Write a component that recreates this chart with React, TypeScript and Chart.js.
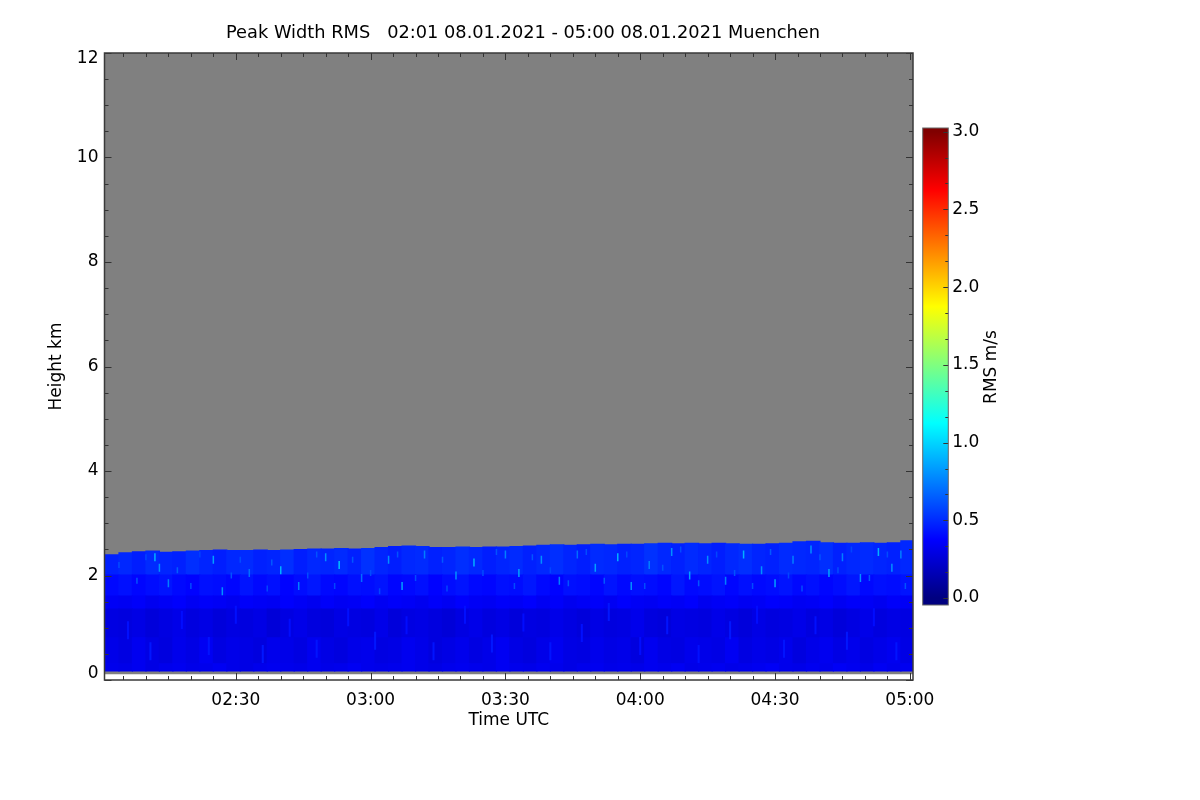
import { useEffect, useRef } from "react"
import { Chart, registerables } from "chart.js"

Chart.register(...registerables)

const FONT = "'DejaVu Sans', 'Liberation Sans', sans-serif"
const TITLE = "Peak Width RMS   02:01 08.01.2021 - 05:00 08.01.2021 Muenchen"

// column centres, minutes after 02:00 (3 min columns)
const columnMinutes = [
  2.5, 5.5, 8.5, 11.5, 14.5, 17.5, 20.5, 23.5, 26.5, 29.5,
  32.5, 35.5, 38.5, 41.5, 44.5, 47.5, 50.5, 53.5, 56.5, 59.5,
  62.5, 65.5, 68.5, 71.5, 74.5, 77.5, 80.5, 83.5, 86.5, 89.5,
  92.5, 95.5, 98.5, 101.5, 104.5, 107.5, 110.5, 113.5, 116.5, 119.5,
  122.5, 125.5, 128.5, 131.5, 134.5, 137.5, 140.5, 143.5, 146.5, 149.5,
  152.5, 155.5, 158.5, 161.5, 164.5, 167.5, 170.5, 173.5, 176.5, 179.5
]

// top of the measured layer, km
const columnTops = [
  2.4, 2.44, 2.46, 2.47, 2.45, 2.46, 2.47, 2.48, 2.49, 2.48,
  2.48, 2.49, 2.48, 2.49, 2.5, 2.51, 2.51, 2.52, 2.51, 2.52,
  2.54, 2.56, 2.57, 2.56, 2.54, 2.54, 2.55, 2.54, 2.55, 2.55,
  2.56, 2.57, 2.58, 2.59, 2.58, 2.59, 2.6, 2.59, 2.6, 2.6,
  2.61, 2.62, 2.61, 2.62, 2.61, 2.62, 2.61, 2.6, 2.6, 2.61,
  2.62, 2.65, 2.66, 2.63, 2.62, 2.62, 2.63, 2.62, 2.63, 2.67
]

// lower edge of each height layer, km (no data below the first edge)
const noDataFloor = 0.11
const layerEdges = [0.17, 0.3, 0.8, 1.35, 1.6, 2.0]

// RMS m/s per layer and column
const rmsLayer0 = [
  0.32, 0.31, 0.33, 0.3, 0.32, 0.33, 0.31, 0.32, 0.34, 0.31,
  0.3, 0.32, 0.33, 0.32, 0.31, 0.33, 0.31, 0.32, 0.34, 0.32,
  0.31, 0.32, 0.33, 0.31, 0.3, 0.32, 0.33, 0.32, 0.31, 0.34,
  0.32, 0.31, 0.33, 0.32, 0.3, 0.32, 0.33, 0.31, 0.32, 0.31,
  0.33, 0.32, 0.34, 0.31, 0.32, 0.33, 0.31, 0.32, 0.33, 0.35,
  0.32, 0.31, 0.33, 0.32, 0.35, 0.33, 0.31, 0.34, 0.32, 0.33
]
const rmsLayer1 = [
  0.31, 0.29, 0.33, 0.3, 0.28, 0.32, 0.3, 0.34, 0.29, 0.31,
  0.3, 0.28, 0.32, 0.31, 0.29, 0.33, 0.3, 0.28, 0.31, 0.32,
  0.29, 0.3, 0.33, 0.31, 0.28, 0.3, 0.32, 0.29, 0.31, 0.34,
  0.3, 0.28, 0.31, 0.33, 0.3, 0.29, 0.32, 0.3, 0.31, 0.28,
  0.33, 0.3, 0.29, 0.32, 0.31, 0.3, 0.34, 0.29, 0.31, 0.3,
  0.32, 0.28, 0.31, 0.33, 0.3, 0.32, 0.29, 0.31, 0.33, 0.3
]
const rmsLayer2 = [
  0.29, 0.28, 0.3, 0.27, 0.29, 0.31, 0.28, 0.3, 0.27, 0.29,
  0.28, 0.3, 0.26, 0.29, 0.31, 0.28, 0.27, 0.3, 0.29, 0.28,
  0.31, 0.27, 0.29, 0.3, 0.28, 0.26, 0.29, 0.31, 0.28, 0.3,
  0.27, 0.29, 0.28, 0.31, 0.29, 0.27, 0.3, 0.28, 0.29, 0.32,
  0.28, 0.27, 0.3, 0.29, 0.28, 0.31, 0.29, 0.27, 0.3, 0.28,
  0.29, 0.31, 0.28, 0.3, 0.27, 0.29, 0.31, 0.28, 0.3, 0.29
]
const rmsLayer3 = [
  0.35, 0.34, 0.36, 0.33, 0.35, 0.37, 0.34, 0.36, 0.35, 0.33,
  0.36, 0.35, 0.34, 0.37, 0.35, 0.33, 0.36, 0.34, 0.35, 0.37,
  0.34, 0.36, 0.35, 0.33, 0.36, 0.34, 0.37, 0.35, 0.34, 0.36,
  0.35, 0.37, 0.34, 0.36, 0.33, 0.35, 0.36, 0.34, 0.37, 0.35,
  0.34, 0.36, 0.35, 0.37, 0.33, 0.35, 0.36, 0.34, 0.35, 0.37,
  0.36, 0.34, 0.35, 0.37, 0.34, 0.36, 0.35, 0.33, 0.36, 0.35
]
const rmsLayer4 = [
  0.4, 0.42, 0.39, 0.41, 0.43, 0.4, 0.38, 0.42, 0.41, 0.39,
  0.43, 0.4, 0.42, 0.38, 0.41, 0.44, 0.4, 0.39, 0.42, 0.41,
  0.43, 0.39, 0.4, 0.42, 0.38, 0.41, 0.43, 0.4, 0.39, 0.42,
  0.41, 0.44, 0.4, 0.38, 0.42, 0.41, 0.39, 0.43, 0.4, 0.42,
  0.41, 0.39, 0.44, 0.4, 0.41, 0.43, 0.39, 0.42, 0.4, 0.41,
  0.43, 0.4, 0.42, 0.39, 0.41, 0.44, 0.4, 0.42, 0.41, 0.43
]
const rmsLayer5 = [
  0.47, 0.49, 0.46, 0.5, 0.48, 0.47, 0.51, 0.48, 0.46, 0.49,
  0.5, 0.47, 0.48, 0.51, 0.46, 0.49, 0.48, 0.5, 0.47, 0.52,
  0.48, 0.46, 0.49, 0.5, 0.47, 0.48, 0.51, 0.49, 0.46, 0.48,
  0.5, 0.47, 0.49, 0.51, 0.48, 0.46, 0.5, 0.49, 0.47, 0.48,
  0.52, 0.49, 0.47, 0.5, 0.48, 0.46, 0.49, 0.51, 0.48, 0.47,
  0.5, 0.49, 0.48, 0.51, 0.47, 0.49, 0.5, 0.48, 0.47, 0.49
]

// [minute, km, rms] short bright streaks in the upper layer
const brightStreaks = [
  [13, 2.15, 0.8], [12, 2.35, 0.9], [15, 1.85, 0.75], [25, 2.3, 0.85], [27, 1.7, 0.8],
  [33, 2.05, 0.7], [40, 2.1, 0.9], [44, 1.8, 0.75], [50, 2.35, 0.8], [53, 2.2, 0.95],
  [58, 1.95, 0.7], [64, 2.3, 0.8], [67, 1.8, 0.85], [72, 2.4, 0.75], [79, 2.0, 0.8],
  [83, 2.25, 0.9], [90, 2.4, 0.75], [93, 2.05, 0.85], [98, 2.3, 0.8], [102, 1.9, 0.75],
  [106, 2.4, 0.7], [110, 2.15, 0.85], [115, 2.35, 0.9], [118, 1.8, 0.8], [122, 2.2, 0.75],
  [127, 2.45, 0.8], [131, 2.0, 0.85], [135, 2.3, 0.8], [139, 1.9, 0.75], [143, 2.4, 0.9],
  [147, 2.1, 0.8], [150, 1.85, 0.85], [154, 2.3, 0.75], [158, 2.5, 0.8], [162, 2.05, 0.85],
  [165, 2.35, 0.75], [169, 1.95, 0.8], [173, 2.45, 0.9], [176, 2.15, 0.8], [178, 2.4, 0.75]
]

// [minute, km, rms] small speckles of slightly raised width
const mediumStreaks = [
  [4, 2.2, 0.6], [8, 1.9, 0.62], [10, 2.35, 0.58], [17, 2.1, 0.65], [20, 1.8, 0.6],
  [22, 2.4, 0.57], [29, 2.0, 0.62], [31, 2.3, 0.6], [37, 1.75, 0.58], [38, 2.25, 0.64],
  [46, 2.0, 0.6], [48, 2.4, 0.62], [52, 1.8, 0.58], [56, 2.3, 0.63], [60, 2.05, 0.6],
  [62, 1.7, 0.58], [66, 2.4, 0.62], [70, 1.95, 0.6], [76, 2.3, 0.64], [77, 1.75, 0.58],
  [85, 2.05, 0.6], [88, 2.45, 0.62], [92, 1.8, 0.6], [96, 2.35, 0.63], [100, 2.1, 0.58],
  [104, 1.85, 0.62], [108, 2.45, 0.6], [112, 1.9, 0.64], [117, 2.4, 0.58], [121, 1.8, 0.6],
  [125, 2.15, 0.62], [129, 2.5, 0.6], [133, 1.85, 0.63], [137, 2.4, 0.58], [141, 2.05, 0.62],
  [145, 1.8, 0.6], [149, 2.45, 0.64], [153, 2.0, 0.58], [156, 1.75, 0.6], [160, 2.35, 0.62],
  [164, 2.1, 0.6], [167, 2.5, 0.58], [171, 1.95, 0.63], [175, 2.4, 0.6], [179, 1.8, 0.62]
]

// [minute, km, rms] faint long streaks in the lower layers
const faintStreaks = [
  [6, 0.95, 0.42], [11, 0.55, 0.44], [18, 1.15, 0.41], [24, 0.65, 0.43], [30, 1.25, 0.42],
  [36, 0.5, 0.44], [42, 1.0, 0.41], [48, 0.6, 0.43], [55, 1.2, 0.42], [61, 0.75, 0.44],
  [68, 1.05, 0.41], [74, 0.55, 0.43], [81, 1.25, 0.42], [87, 0.7, 0.44], [94, 1.1, 0.41],
  [100, 0.55, 0.43], [107, 0.9, 0.42], [113, 1.3, 0.44], [120, 0.65, 0.41], [126, 1.05, 0.43],
  [133, 0.5, 0.42], [140, 0.95, 0.44], [146, 1.25, 0.41], [152, 0.6, 0.43], [159, 1.05, 0.42],
  [166, 0.75, 0.44], [172, 1.2, 0.41], [177, 0.55, 0.43]
]

const xMajorTicks = [30, 60, 90, 120, 150, 180]
const xTickLabels = ["02:30", "03:00", "03:30", "04:00", "04:30", "05:00"]
const xMinorTicks = [
  5, 10, 15, 20, 25, 35, 40, 45, 50, 55, 65, 70, 75, 80, 85,
  95, 100, 105, 110, 115, 125, 130, 135, 140, 145, 155, 160, 165, 170, 175
]
const yMajorTicks = [0, 2, 4, 6, 8, 10, 12]
const yTickLabels = ["0", "2", "4", "6", "8", "10", "12"]
// the end labels sit just inside the frame
const yLabelAt = [0.13, 2, 4, 6, 8, 10, 11.885]
const yMinorTicks = [0.5, 1, 1.5, 2.5, 3, 3.5, 4.5, 5, 5.5, 6.5, 7, 7.5, 8.5, 9, 9.5, 10.5, 11, 11.5]
const cbMajorTicks = [0, 0.5, 1, 1.5, 2, 2.5, 3]
const cbMinorTicks = [0.167, 0.333, 0.667, 0.833, 1.167, 1.333, 1.667, 1.833, 2.167, 2.333, 2.667, 2.833]
const cbStops = [0, 0.375, 1.125, 1.875, 2.625, 3]

const jet = (v: number) => {
  const t = Math.min(1, Math.max(0, v / 3))
  const c = (k: number) => Math.round(255 * Math.min(1, Math.max(0, 1.5 - Math.abs(4 * t - k))))
  return `rgb(${c(3)},${c(2)},${c(1)})`
}

const tickFont = { family: FONT, size: 17 }

const plotPlugin = {
  id: "plotFrame",
  beforeDatasetsDraw(chart: any) {
    const { ctx, chartArea: a, scales } = chart
    ctx.save()
    ctx.fillStyle = "#ffffff"
    ctx.fillRect(a.left, a.top, a.width, a.height)
    ctx.fillStyle = "#808080"
    const yf = scales.y.getPixelForValue(noDataFloor)
    ctx.fillRect(a.left, a.top, a.width, yf - a.top)
    ctx.restore()
  },
  afterDraw(chart: any) {
    const { ctx, chartArea: a, scales } = chart
    ctx.save()
    ctx.strokeStyle = "#333333"
    ctx.lineWidth = 1
    ctx.beginPath()
    const xt = (vals: number[], len: number) => {
      vals.forEach((v) => {
        const px = Math.round(scales.x.getPixelForValue(v)) + 0.5
        ctx.moveTo(px, a.bottom)
        ctx.lineTo(px, a.bottom - len)
        ctx.moveTo(px, a.top)
        ctx.lineTo(px, a.top + len)
      })
    }
    const yt = (vals: number[], len: number) => {
      vals.forEach((v) => {
        const py = Math.round(scales.y.getPixelForValue(v)) + 0.5
        ctx.moveTo(a.left, py)
        ctx.lineTo(a.left + len, py)
        ctx.moveTo(a.right, py)
        ctx.lineTo(a.right - len, py)
      })
    }
    xt(xMajorTicks, 7)
    xt(xMinorTicks, 4)
    yt(yMajorTicks, 7)
    yt(yMinorTicks, 4)
    ctx.stroke()
    ctx.lineWidth = 1.5
    ctx.strokeStyle = "#3a3a3a"
    ctx.strokeRect(a.left, a.top, a.width, a.height)
    ctx.fillStyle = "#000000"
    ctx.font = `17.8px ${FONT}`
    ctx.textAlign = "center"
    ctx.textBaseline = "middle"
    ctx.fillText(TITLE, 523, 33.5)
    ctx.restore()
  }
}

const colorbarPlugin = {
  id: "colorbarFrame",
  afterDraw(chart: any) {
    const { ctx, chartArea: a, scales } = chart
    ctx.save()
    ctx.strokeStyle = "#333333"
    ctx.lineWidth = 1
    ctx.beginPath()
    const t = (vals: number[], len: number) => {
      vals.forEach((v) => {
        const py = Math.round(scales.y.getPixelForValue(v)) + 0.5
        ctx.moveTo(a.right, py)
        ctx.lineTo(a.right - len, py)
      })
    }
    t(cbMajorTicks, 5)
    t(cbMinorTicks, 3)
    ctx.stroke()
    ctx.strokeStyle = "#666666"
    ctx.strokeRect(a.left, a.top, a.width, a.height)
    ctx.translate(92, 267)
    ctx.rotate(-Math.PI / 2)
    ctx.fillStyle = "#000000"
    ctx.font = `17px ${FONT}`
    ctx.textAlign = "center"
    ctx.textBaseline = "middle"
    ctx.fillText("RMS m/s", 0, 0)
    ctx.restore()
  }
}

const App = () => {
  const mainRef = useRef<HTMLCanvasElement>(null)
  const barRef = useRef<HTMLCanvasElement>(null)

  useEffect(() => {
    if (!mainRef.current || !barRef.current) return
    const layers = [rmsLayer0, rmsLayer1, rmsLayer2, rmsLayer3, rmsLayer4, rmsLayer5]

    const layerSets: any[] = layers.map((vals, k) => ({
      type: "bar",
      data: columnMinutes.map((m, i) => ({
        x: m,
        y: [layerEdges[k], k < layerEdges.length - 1 ? layerEdges[k + 1] + 0.012 : columnTops[i]]
      })),
      backgroundColor: vals.map(jet),
      borderWidth: 0,
      barThickness: 14,
      grouped: false,
      order: 4
    }))

    const streakSet = (rows: number[][], radius: number, width: number, order: number) => ({
      type: "scatter",
      data: rows.map((r) => ({ x: r[0], y: r[1] })),
      pointStyle: "line",
      rotation: 90,
      radius,
      borderWidth: width,
      borderColor: rows.map((r) => jet(r[2])),
      backgroundColor: rows.map((r) => jet(r[2])),
      order
    })

    const mainChart = new Chart(mainRef.current, {
      type: "bar",
      data: {
        datasets: [
          ...layerSets,
          streakSet(faintStreaks, 9, 2, 3),
          streakSet(mediumStreaks, 3, 1.5, 2),
          streakSet(brightStreaks, 4, 1.5, 1)
        ]
      },
      options: {
        responsive: false,
        animation: false,
        events: [],
        layout: { padding: { top: 53, right: 287, bottom: 0, left: 0 } },
        plugins: { legend: { display: false }, tooltip: { enabled: false } },
        scales: {
          x: {
            type: "linear",
            min: 0.78,
            max: 180.7,
            offset: false,
            grid: { display: false, drawTicks: false },
            border: { display: false },
            afterBuildTicks: (s: any) => {
              s.ticks = xMajorTicks.map((value) => ({ value }))
            },
            afterFit: (s: any) => {
              s.height = 120
            },
            ticks: {
              font: tickFont,
              color: "#000000",
              padding: 10,
              maxRotation: 0,
              autoSkip: false,
              callback: (_v: any, i: number) => xTickLabels[i]
            },
            title: {
              display: true,
              text: "Time UTC",
              font: tickFont,
              color: "#000000",
              padding: { top: 0, bottom: 69 }
            }
          },
          y: {
            type: "linear",
            min: 0,
            max: 12,
            grid: { display: false, drawTicks: false },
            border: { display: false },
            afterBuildTicks: (s: any) => {
              s.ticks = yLabelAt.map((value) => ({ value }))
            },
            afterFit: (s: any) => {
              s.width = 104.5
            },
            ticks: {
              font: tickFont,
              color: "#000000",
              padding: 6,
              callback: (_v: any, i: number) => yTickLabels[i]
            },
            title: {
              display: true,
              text: "Height km",
              font: tickFont,
              color: "#000000",
              padding: { top: 46, bottom: 0 }
            }
          }
        }
      } as any,
      plugins: [plotPlugin]
    } as any)

    const barChart = new Chart(barRef.current, {
      type: "bar",
      data: {
        labels: ["RMS"],
        datasets: [
          {
            data: [[-0.045, 3.024]],
            backgroundColor: (c: any) => {
              const { ctx, chartArea, scales } = c.chart
              if (!chartArea) return "#0000ff"
              const p0 = scales.y.getPixelForValue(0)
              const p3 = scales.y.getPixelForValue(3)
              const g = ctx.createLinearGradient(0, p0, 0, p3)
              cbStops.forEach((v) => g.addColorStop(v / 3, jet(v)))
              return g
            },
            borderWidth: 0,
            barPercentage: 1,
            categoryPercentage: 1
          }
        ]
      },
      options: {
        responsive: false,
        animation: false,
        events: [],
        layout: { padding: { left: 22.7, top: 28, bottom: 35, right: 0 } },
        plugins: { legend: { display: false }, tooltip: { enabled: false } },
        scales: {
          x: { display: false },
          y: {
            position: "right",
            min: -0.045,
            max: 3.024,
            grid: { display: false, drawTicks: false },
            border: { display: false },
            afterBuildTicks: (s: any) => {
              s.ticks = cbMajorTicks.map((value) => ({ value }))
            },
            afterFit: (s: any) => {
              s.width = 91.7
            },
            ticks: {
              font: tickFont,
              color: "#000000",
              padding: 4,
              callback: (v: any) => Number(v).toFixed(1)
            }
          }
        }
      } as any,
      plugins: [colorbarPlugin]
    } as any)

    return () => {
      mainChart.destroy()
      barChart.destroy()
    }
  }, [])

  return (
    <div style={{ position: "absolute", left: 0, top: 0, width: 1200, height: 800, background: "#ffffff" }}>
      <canvas ref={mainRef} width={1200} height={800} style={{ position: "absolute", left: 0, top: 0 }} />
      <canvas ref={barRef} width={140} height={540} style={{ position: "absolute", left: 900, top: 100 }} />
    </div>
  )
}

export default App
